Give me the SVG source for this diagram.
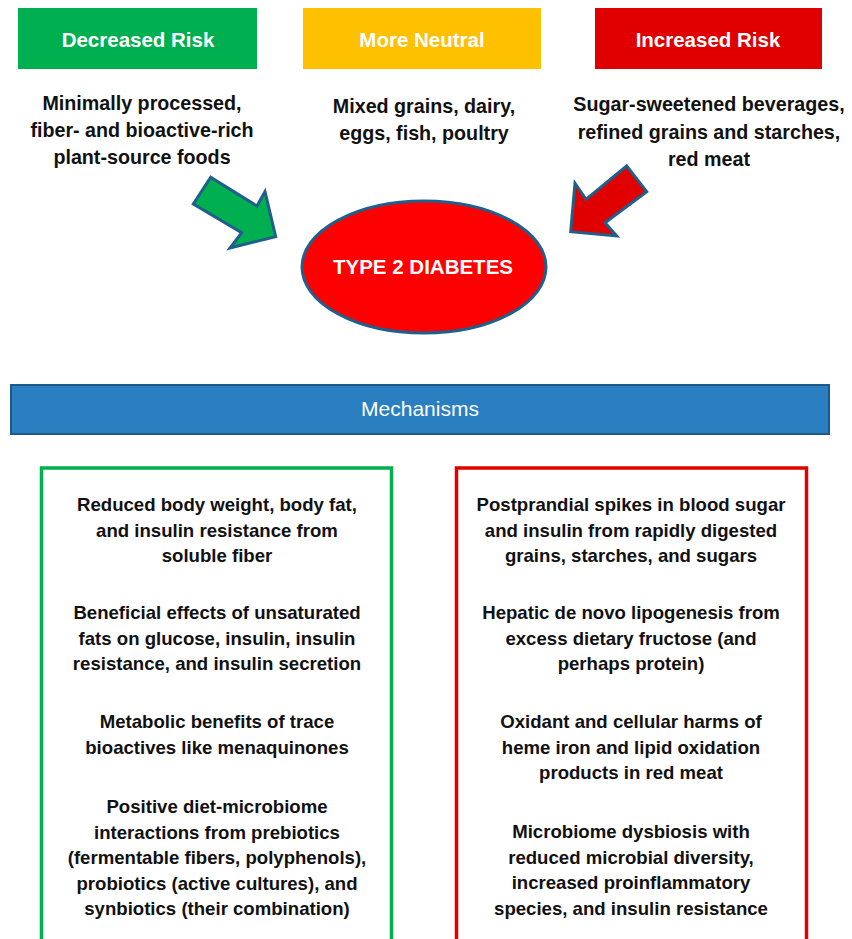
<svg xmlns="http://www.w3.org/2000/svg" width="852" height="939" viewBox="0 0 852 939">
  <style>
    text { font-family: "Liberation Sans", Arial, sans-serif; text-anchor: middle; }
    .hdr { font-size: 20.5px; font-weight: bold; fill: #ffffff; }
    .desc { font-size: 19.7px; font-weight: bold; fill: #111111; }
    .mech { font-size: 18.6px; font-weight: bold; fill: #111111; }
    .bar-label { font-size: 21px; fill: #ffffff; }
    .outline { stroke: #1f5f8b; stroke-width: 3; stroke-linejoin: miter; }
  </style>

  <rect width="852" height="939" fill="#ffffff"/>

  <!-- Risk category headers -->
  <g id="decreased-risk">
    <rect x="18" y="8" width="239" height="61" fill="#00b050"/>
    <text class="hdr" x="138" y="47">Decreased Risk</text>
  </g>
  <g id="more-neutral">
    <rect x="303" y="8" width="238" height="61" fill="#ffc000"/>
    <text class="hdr" x="422" y="47">More Neutral</text>
  </g>
  <g id="increased-risk">
    <rect x="595" y="8" width="227" height="61" fill="#e00000"/>
    <text class="hdr" x="708" y="47">Increased Risk</text>
  </g>

  <!-- Food group descriptions -->
  <g id="decreased-foods">
    <text class="desc" x="142" y="110">Minimally processed,</text>
    <text class="desc" x="142" y="137">fiber- and bioactive-rich</text>
    <text class="desc" x="142" y="164">plant-source foods</text>
  </g>
  <g id="neutral-foods">
    <text class="desc" x="424" y="113">Mixed grains, dairy,</text>
    <text class="desc" x="424" y="140">eggs, fish, poultry</text>
  </g>
  <g id="increased-foods">
    <text class="desc" x="709" y="111">Sugar-sweetened beverages,</text>
    <text class="desc" x="709" y="139">refined grains and starches,</text>
    <text class="desc" x="709" y="166">red meat</text>
  </g>

  <!-- Outcome -->
  <g id="type2-diabetes">
    <ellipse cx="424" cy="267" rx="122" ry="66" fill="#ff0000" class="outline"/>
    <text class="hdr" x="423" y="274">TYPE 2 DIABETES</text>
  </g>

  <!-- Block arrows pointing at the outcome -->
  <g id="connectors">
    <polygon class="outline" fill="#00b050"
      points="210.7,177.3 257,206 265,191.7 275.7,236.7 230,248 241.7,232.7 193.3,204"/>
    <polygon class="outline" fill="#e00000"
      points="626.7,166 646.7,191.7 605,222.7 616.7,236 570.7,231.7 575,183.3 586,199.3"/>
  </g>

  <!-- Mechanisms banner -->
  <g id="mechanisms">
    <rect x="11" y="385" width="818" height="49" fill="#2a7fc1" stroke="#1d5a8a" stroke-width="2"/>
    <text class="bar-label" x="420" y="416">Mechanisms</text>
  </g>

  <!-- Protective mechanisms -->
  <g id="protective-mechanisms">
    <rect x="41.5" y="468" width="350" height="490" fill="none" stroke="#00b050" stroke-width="3.5"/>
    <text class="mech" x="217" y="511">Reduced body weight, body fat,</text>
    <text class="mech" x="217" y="536.5">and insulin resistance from</text>
    <text class="mech" x="217" y="562">soluble fiber</text>

    <text class="mech" x="217" y="619">Beneficial effects of unsaturated</text>
    <text class="mech" x="217" y="644.5">fats on glucose, insulin, insulin</text>
    <text class="mech" x="217" y="670">resistance, and insulin secretion</text>

    <text class="mech" x="217" y="728">Metabolic benefits of trace</text>
    <text class="mech" x="217" y="753.5">bioactives like menaquinones</text>

    <text class="mech" x="217" y="813">Positive diet-microbiome</text>
    <text class="mech" x="217" y="838.5">interactions from prebiotics</text>
    <text class="mech" x="217" y="864">(fermentable fibers, polyphenols),</text>
    <text class="mech" x="217" y="889.5">probiotics (active cultures), and</text>
    <text class="mech" x="217" y="915">synbiotics (their combination)</text>
  </g>

  <!-- Harmful mechanisms -->
  <g id="harmful-mechanisms">
    <rect x="456.5" y="468" width="350" height="490" fill="none" stroke="#e00000" stroke-width="3.5"/>
    <text class="mech" x="631" y="511">Postprandial spikes in blood sugar</text>
    <text class="mech" x="631" y="536.5">and insulin from rapidly digested</text>
    <text class="mech" x="631" y="562">grains, starches, and sugars</text>

    <text class="mech" x="631" y="619">Hepatic de novo lipogenesis from</text>
    <text class="mech" x="631" y="644.5">excess dietary fructose (and</text>
    <text class="mech" x="631" y="670">perhaps protein)</text>

    <text class="mech" x="631" y="728">Oxidant and cellular harms of</text>
    <text class="mech" x="631" y="753.5">heme iron and lipid oxidation</text>
    <text class="mech" x="631" y="779">products in red meat</text>

    <text class="mech" x="631" y="838">Microbiome dysbiosis with</text>
    <text class="mech" x="631" y="863.5">reduced microbial diversity,</text>
    <text class="mech" x="631" y="889">increased proinflammatory</text>
    <text class="mech" x="631" y="914.5">species, and insulin resistance</text>
  </g>
</svg>
